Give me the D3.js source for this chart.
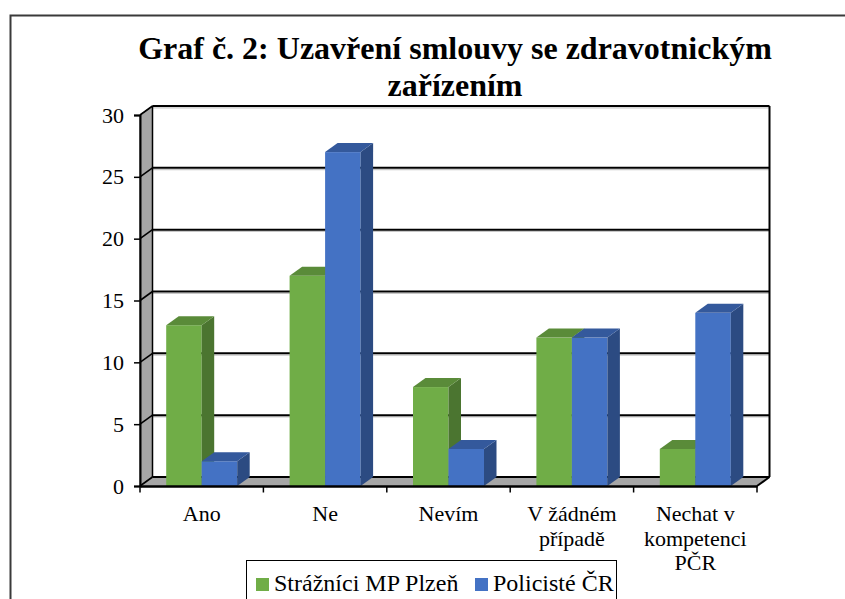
<!DOCTYPE html>
<html><head><meta charset="utf-8">
<script src="https://cdn.jsdelivr.net/npm/d3@7/dist/d3.min.js"></script>
<style>body{margin:0;background:#fff}svg{display:block}</style>
</head><body>
<svg id="c" width="845" height="599"></svg>
<script>
const categories = ["Ano", "Ne", "Nevím", "V žádném\npřípadě", "Nechat v\nkompetenci\nPČR"];
const seriesNames = ["Strážníci MP Plzeň", "Policisté ČR"];
const strazniciValues = [13, 17, 8, 12, 3];
const policisteValues = [2, 27, 3, 12, 14];
const yTicks = [0, 5, 10, 15, 20, 25, 30];
const titleLines = ["Graf č. 2: Uzavření smlouvy se zdravotnickým", "zařízením"];

const colors = {
  front: ["#70AD47", "#4472C4"],
  side: ["#4B7530", "#2C4B82"],
  top: ["#5A8B39", "#34599C"]
};
const seriesValues = [strazniciValues, policisteValues];

const FONT = "Liberation Serif";
const svg = d3.select("#c");
const DX = 12.5, DY = -9;

const x = d3.scaleBand().domain(categories).range([140, 757]).padding(0);
const xs = d3.scaleBand().domain(seriesNames).range([0, x.bandwidth()]).paddingInner(0).paddingOuter(0.738);
const y = d3.scaleLinear().domain([0, 30]).range([486, 115]);
const X0 = x.range()[0], X1 = x.range()[1];

// outer border
svg.append("rect").attr("x", 10.5).attr("y", 15.5).attr("width", 900).attr("height", 700)
  .attr("fill", "none").attr("stroke", "#3a3a3a").attr("stroke-width", 2);

// title
titleLines.forEach((t, i) => {
  svg.append("text").attr("x", 455).attr("y", 59 + i * 37).attr("text-anchor", "middle")
    .attr("font-family", FONT).attr("font-weight", "bold").attr("font-size", 32).text(t);
});

const wall = "#A6A6A6";
svg.append("polygon").attr("points", [[X0, y(30)], [X0 + DX, y(30) + DY], [X0 + DX, y(0) + DY], [X0, y(0)]].join(" "))
  .attr("fill", wall).attr("stroke", "#000").attr("stroke-width", 1);
svg.append("polygon").attr("points", [[X0, y(0)], [X1, y(0)], [X1 + DX, y(0) + DY], [X0 + DX, y(0) + DY]].join(" "))
  .attr("fill", wall);

const grid = svg.append("g");
yTicks.forEach(t => {
  const yb = y(t) + DY;
  if (t > 0) {
    grid.append("line").attr("x1", X0 + DX).attr("x2", X1 + DX).attr("y1", yb + 1.8).attr("y2", yb + 1.8)
      .attr("stroke", "#c8c8c8").attr("stroke-width", 1.2);
  }
  grid.append("line").attr("x1", X0 + DX).attr("x2", X1 + DX).attr("y1", yb).attr("y2", yb)
    .attr("stroke", "#000").attr("stroke-width", 2);
  grid.append("line").attr("x1", X0).attr("x2", X0 + DX).attr("y1", y(t)).attr("y2", yb)
    .attr("stroke", "#000").attr("stroke-width", 1.6);
});
grid.append("line").attr("x1", X0 + DX).attr("x2", X0 + DX).attr("y1", y(30) + DY).attr("y2", y(0) + DY)
  .attr("stroke", "#000").attr("stroke-width", 1.5);
grid.append("line").attr("x1", X1 + DX).attr("x2", X1 + DX).attr("y1", y(30) + DY).attr("y2", y(0) + DY)
  .attr("stroke", "#000").attr("stroke-width", 2);
grid.append("line").attr("x1", X1).attr("x2", X1 + DX).attr("y1", y(0)).attr("y2", y(0) + DY)
  .attr("stroke", "#000").attr("stroke-width", 2);

const bars = svg.append("g");
categories.forEach((c, ci) => {
  seriesNames.forEach((s, si) => {
    const v = seriesValues[si][ci];
    const bx = x(c) + xs(s), bw = xs.bandwidth();
    const yt = y(v), yb = y(0);
    bars.append("rect").attr("x", bx).attr("y", yt).attr("width", bw).attr("height", yb - yt)
      .attr("fill", colors.front[si]);
    bars.append("polygon").attr("points", [[bx + bw, yt], [bx + bw + DX, yt + DY], [bx + bw + DX, yb + DY], [bx + bw, yb]].join(" "))
      .attr("fill", colors.side[si]);
    bars.append("polygon").attr("points", [[bx, yt], [bx + DX, yt + DY], [bx + bw + DX, yt + DY], [bx + bw, yt]].join(" "))
      .attr("fill", colors.top[si]);
  });
});

const yAxis = svg.append("g").attr("transform", `translate(${X0},0)`)
  .call(d3.axisLeft(y).tickValues(yTicks).tickSize(6).tickPadding(10).tickFormat(d3.format("d")));
yAxis.attr("font-family", FONT).attr("font-size", 22);
yAxis.select(".domain").attr("stroke", "#000").attr("stroke-width", 2);
yAxis.selectAll(".tick line").attr("stroke", "#000").attr("stroke-width", 1.5);
yAxis.selectAll(".tick text").attr("font-family", FONT).attr("font-size", 22).attr("fill", "#000");

const xAxis = svg.append("g").attr("transform", `translate(0,${y(0)})`)
  .call(d3.axisBottom(x).tickSize(0).tickFormat(""));
xAxis.attr("font-family", FONT).attr("font-size", 22);
xAxis.select(".domain").attr("stroke", "#000").attr("stroke-width", 2.5);
const bounds = categories.map(c => x(c)).concat([X1]);
xAxis.selectAll(".bound").data(bounds).enter().append("line").attr("class", "bound")
  .attr("x1", d => d).attr("x2", d => d).attr("y1", 0).attr("y2", 6.5)
  .attr("stroke", "#000").attr("stroke-width", 1.5);
categories.forEach(c => {
  const cx = x(c) + x.bandwidth() / 2;
  const t = xAxis.append("text").attr("x", cx).attr("y", 35)
    .attr("text-anchor", "middle").attr("font-family", FONT).attr("font-size", 22).attr("fill", "#000");
  c.split("\n").forEach((line, i) => {
    t.append("tspan").attr("x", cx).attr("y", 35 + i * 24.5).text(line);
  });
});

const lg = svg.append("g");
lg.append("rect").attr("x", 246.5).attr("y", 560.5).attr("width", 370).attr("height", 80)
  .attr("fill", "#fff").attr("stroke", "#000").attr("stroke-width", 1);
const legendPos = [[256, 274], [475, 493]];
seriesNames.forEach((s, i) => {
  lg.append("rect").attr("x", legendPos[i][0]).attr("y", 578).attr("width", 13).attr("height", 13)
    .attr("fill", colors.front[i]);
  lg.append("text").attr("x", legendPos[i][1]).attr("y", 591)
    .attr("font-family", FONT).attr("font-size", 24).attr("fill", "#000").text(s);
});
</script>
</body></html>
